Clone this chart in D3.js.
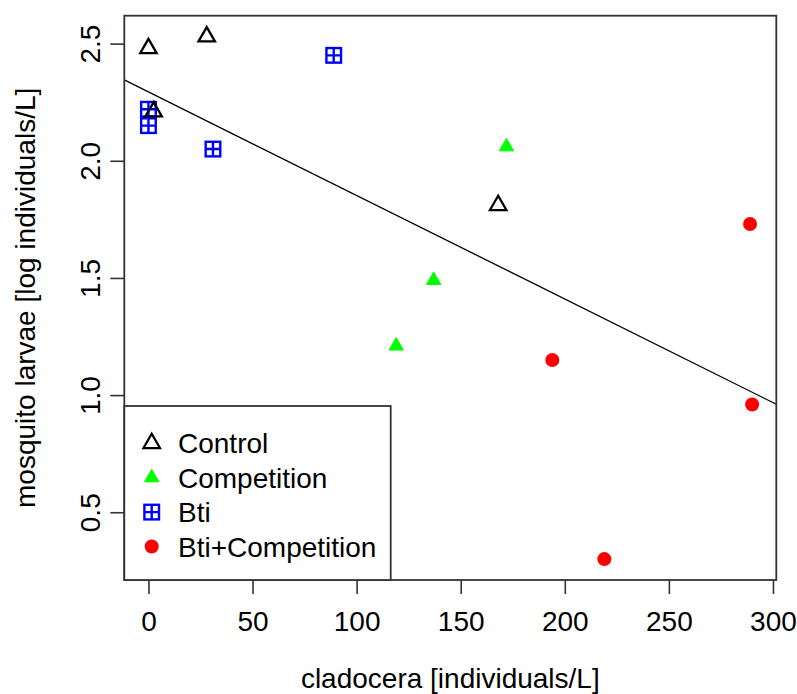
<!DOCTYPE html>
<html>
<head>
<meta charset="utf-8">
<script src="https://cdn.jsdelivr.net/npm/d3@7"></script>
<style>
  html, body { margin: 0; padding: 0; background: #fff; }
  svg { display: block; }
  text { font-family: "Liberation Sans", Arial, sans-serif; fill: #000; }
</style>
</head>
<body>
<svg id="chart" width="797" height="694"></svg>
<script>
// Mosquito larvae density against cladocera density, by treatment
const groups = ["Control", "Competition", "Bti", "Bti+Competition"];

const controlX = [0, 28, 2.5, 168];
const controlY = [2.48, 2.53, 2.21, 1.81];

const competitionX = [172, 137, 119];
const competitionY = [2.06, 1.49, 1.21];

const btiX = [0, 0, 31, 89];
const btiY = [2.22, 2.15, 2.05, 2.45];

const btiCompX = [289, 194, 290, 219];
const btiCompY = [1.73, 1.15, 0.96, 0.30];

// fitted linear model: larvae ~ cladocera
const fitIntercept = 2.294;
const fitSlope = -0.00442;

const xTicks = [0, 50, 100, 150, 200, 250, 300];
const yTicks = [0.5, 1.0, 1.5, 2.0, 2.5];
const xTickLabels = ["0", "50", "100", "150", "200", "250", "300"];
const yTickLabels = ["0.5", "1.0", "1.5", "2.0", "2.5"];

const xTitle = "cladocera [individuals/L]";
const yTitle = "mosquito larvae [log individuals/L]";

const W = 797, H = 694;
const margin = { left: 124.3, right: 20.7, top: 15.7, bottom: 114 };
const fontSize = 28;

const svg = d3.select("#chart");

// axis ranges padded by 4% of the data span on each side
function padded(vals) {
  const lo = d3.min(vals), hi = d3.max(vals), d = (hi - lo) * 0.04;
  return [lo - d, hi + d];
}
const allX = [].concat(controlX, competitionX, btiX, btiCompX);
const allY = [].concat(controlY, competitionY, btiY, btiCompY);

const x = d3.scaleLinear().domain(padded(allX)).range([margin.left, W - margin.right]);
const y = d3.scaleLinear().domain(padded(allY)).range([H - margin.bottom, margin.top]);

const x0 = margin.left, x1 = W - margin.right, y0 = margin.top, y1 = H - margin.bottom;

// marker shapes
const TRI_OPEN_R = 9.5, TRI_FILL_R = 8.3, SQ_HALF = 7.3, DOT_R = 7;
function triPath(r) {
  const h = r * Math.sqrt(3) / 2;
  return `M0,${-r}L${h},${r / 2}L${-h},${r / 2}Z`;
}
const markerStyles = {
  "Control": g => g.append("path").attr("d", triPath(TRI_OPEN_R))
      .attr("fill", "none").attr("stroke", "#000").attr("stroke-width", 2.3)
      .attr("stroke-linejoin", "miter"),
  "Competition": g => g.append("path").attr("d", triPath(TRI_FILL_R))
      .attr("fill", "#00ff00").attr("stroke", "#00ff00").attr("stroke-width", 1),
  "Bti": g => {
    g.append("rect").attr("x", -SQ_HALF).attr("y", -SQ_HALF)
      .attr("width", 2 * SQ_HALF).attr("height", 2 * SQ_HALF)
      .attr("fill", "none").attr("stroke", "#0000ff").attr("stroke-width", 2.4);
    g.append("path").attr("d", `M${-SQ_HALF},0H${SQ_HALF}M0,${-SQ_HALF}V${SQ_HALF}`)
      .attr("stroke", "#0000ff").attr("stroke-width", 2.4);
  },
  "Bti+Competition": g => g.append("circle").attr("r", DOT_R)
      .attr("fill", "#ff0000")
};

const series = [
  { name: "Bti", xs: btiX, ys: btiY },
  { name: "Bti+Competition", xs: btiCompX, ys: btiCompY },
  { name: "Competition", xs: competitionX, ys: competitionY },
  { name: "Control", xs: controlX, ys: controlY }
];

// clip for the regression line
svg.append("defs").append("clipPath").attr("id", "plotClip")
  .append("rect").attr("x", x0).attr("y", y0).attr("width", x1 - x0).attr("height", y1 - y0);

// regression line across the full plot width
const [dx0, dx1] = x.domain();
svg.append("line")
  .attr("clip-path", "url(#plotClip)")
  .attr("x1", x(dx0)).attr("y1", y(fitIntercept + fitSlope * dx0))
  .attr("x2", x(dx1)).attr("y2", y(fitIntercept + fitSlope * dx1))
  .attr("stroke", "#000").attr("stroke-width", 1.3);

// points
series.forEach(s => {
  s.xs.forEach((xv, i) => {
    const g = svg.append("g").attr("transform", `translate(${x(xv)},${y(s.ys[i])})`);
    markerStyles[s.name](g);
  });
});

// x axis
const xAxis = svg.append("g").attr("transform", `translate(0,${y1})`)
  .call(d3.axisBottom(x).tickValues(xTicks).tickSize(14).tickPadding(17)
    .tickFormat((d, i) => xTickLabels[i]));
xAxis.select(".domain").remove();
xAxis.selectAll(".tick line").attr("stroke", "#333").attr("stroke-width", 1.6);
xAxis.selectAll(".tick text").attr("font-size", fontSize).attr("fill", "#000")
  .attr("font-family", "Liberation Sans, Arial, sans-serif");

// y axis, labels parallel to the axis
const yAxis = svg.append("g").attr("transform", `translate(${x0},0)`)
  .call(d3.axisLeft(y).tickValues(yTicks).tickSize(14)
    .tickFormat((d, i) => yTickLabels[i]));
yAxis.select(".domain").remove();
yAxis.selectAll(".tick line").attr("stroke", "#333").attr("stroke-width", 1.6);
yAxis.selectAll(".tick text")
  .attr("font-size", fontSize).attr("fill", "#000")
  .attr("font-family", "Liberation Sans, Arial, sans-serif")
  .attr("text-anchor", "middle")
  .attr("x", 0).attr("dy", 0)
  .attr("y", -24.3)
  .attr("transform", "rotate(-90)");

// plot frame
svg.append("rect").attr("x", x0).attr("y", y0)
  .attr("width", x1 - x0).attr("height", y1 - y0)
  .attr("fill", "none").attr("stroke", "#333").attr("stroke-width", 1.8);

// axis titles
svg.append("text").attr("x", (x0 + x1) / 2).attr("y", 688)
  .attr("text-anchor", "middle").attr("font-size", fontSize).text(xTitle);
svg.append("text")
  .attr("transform", `translate(35,${(y0 + y1) / 2}) rotate(-90)`)
  .attr("text-anchor", "middle").attr("font-size", fontSize).text(yTitle);

// legend in the bottom-left corner
const legendTop = 406, legendRight = 390.7;
const legend = svg.append("g");
legend.append("rect").attr("x", x0).attr("y", legendTop)
  .attr("width", legendRight - x0).attr("height", y1 - legendTop)
  .attr("fill", "#fff").attr("stroke", "#333").attr("stroke-width", 1.8);
const rowGap = 34.4, firstRow = 443.3;
groups.forEach((name, i) => {
  const cy = firstRow + i * rowGap;
  const g = legend.append("g").attr("transform", `translate(151.7,${cy})`);
  markerStyles[name](g);
  legend.append("text").attr("x", 178).attr("y", cy + 10)
    .attr("font-size", fontSize).text(name);
});
</script>
</body>
</html>
